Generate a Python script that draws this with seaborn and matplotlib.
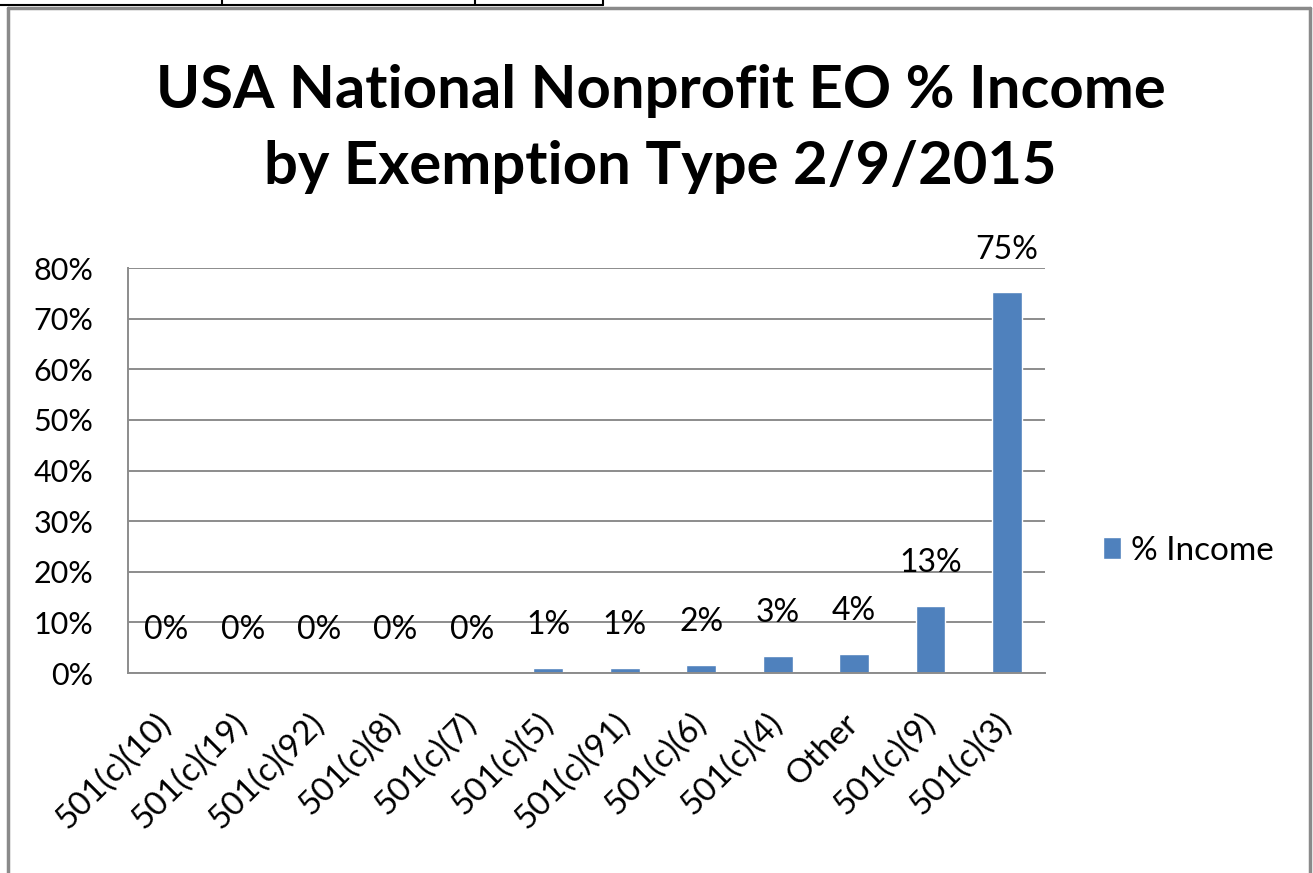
import matplotlib
matplotlib.use('Agg')
import matplotlib.pyplot as plt
import matplotlib.lines as mlines
import seaborn as sns
import pandas as pd
from matplotlib.ticker import PercentFormatter

# ── Data ──────────────────────────────────────────────────────────────────
categories = ['501(c)(10)', '501(c)(19)', '501(c)(92)', '501(c)(8)', '501(c)(7)',
              '501(c)(5)', '501(c)(91)', '501(c)(6)', '501(c)(4)', 'Other',
              '501(c)(9)', '501(c)(3)']
pct_income = [0.0, 0.0, 0.0, 0.0, 0.0, 1.1, 1.0, 1.6, 3.4, 3.8, 13.3, 75.2]
bar_labels = ['0%', '0%', '0%', '0%', '0%', '1%', '1%', '2%', '3%', '4%', '13%', '75%']
series_name = '% Income'
title = 'USA National Nonprofit EO % Income\nby Exemption Type 2/9/2015'

df = pd.DataFrame({'type': categories, 'pct': pct_income})

# ── Style ─────────────────────────────────────────────────────────────────
sns.set_style('white')
plt.rcParams['font.family'] = ['Lato', 'DejaVu Sans']
plt.rcParams['text.color'] = 'black'
plt.rcParams['xtick.labelcolor'] = 'black'
plt.rcParams['ytick.labelcolor'] = 'black'
GRID = '#8c8c8c'
BLUE = '#4f81bd'

fig = plt.figure(figsize=(13.13, 8.73), dpi=100)
ax = fig.add_axes([0.0975, 0.229, 0.6985, 0.464])

sns.barplot(data=df, x='type', y='pct', color=BLUE, width=0.39,
            saturation=1, ax=ax, label=series_name)

ax.set_ylim(0, 80)
ax.set_xlim(-0.5, len(categories) - 0.5)
ax.set_yticks(range(0, 81, 10))
ax.yaxis.set_major_formatter(PercentFormatter(decimals=0))
ax.grid(axis='y', color=GRID, linewidth=1.4)
ax.set_axisbelow(True)
ax.set_xlabel('')
ax.set_ylabel('')

for side in ['top', 'right']:
    ax.spines[side].set_visible(False)
for side in ['left', 'bottom']:
    ax.spines[side].set_color(GRID)
    ax.spines[side].set_linewidth(1.4)

ax.tick_params(axis='y', length=8, color=GRID, width=1.4, labelsize=22, pad=17,
               labelcolor='black')
# category boundary ticks on x axis
ax.set_xticks([i - 0.5 for i in range(len(categories) + 1)], minor=True)
ax.tick_params(axis='x', which='minor', length=9.5, color=GRID, width=1.4, direction='out')
ax.tick_params(axis='x', which='major', length=0, labelsize=24, pad=33,
               labelcolor='black')
ax.set_xticks(range(len(categories)))
ax.set_xticklabels(categories, rotation=45, ha='right', va='center',
                   rotation_mode='anchor')

for i, (v, lab) in enumerate(zip(pct_income, bar_labels)):
    ax.annotate(lab, (i, v), xytext=(0, 20), textcoords='offset points',
                ha='center', va='bottom', fontsize=23, color='black')

fig.text(0.503, 1 - 129 / 873, title, ha='center', va='center', color='black',
         fontsize=43, fontweight='bold', linespacing=1.5)

leg = ax.legend(loc='center left', bbox_to_anchor=(1103 / 1313, 1 - 551 / 873),
                bbox_transform=fig.transFigure, frameon=False, fontsize=24,
                handlelength=0.55, handleheight=0.65, handletextpad=0.3,
                borderaxespad=0, borderpad=0)
for t in leg.get_texts():
    t.set_color('black')

# ── Chart frame and table lines ───────────────────────────────────────────
W, H = 1313, 873
def fline(x0, y0, x1, y1, color, lw):
    fig.add_artist(mlines.Line2D([x0 / W, x1 / W], [1 - y0 / H, 1 - y1 / H],
                                 color=color, linewidth=lw, transform=fig.transFigure))

fline(8, 8, 8, 873, '#8a8a8a', 2.5)
fline(8, 8, 1310, 8, '#8a8a8a', 2.5)
fline(1310, 8, 1310, 873, '#8a8a8a', 2.5)
fline(0, 5, 603, 5, 'black', 1.5)
for x in [222, 475, 603]:
    fline(x, 0, x, 5, 'black', 1.5)

fig.savefig('out.png', dpi=100)
